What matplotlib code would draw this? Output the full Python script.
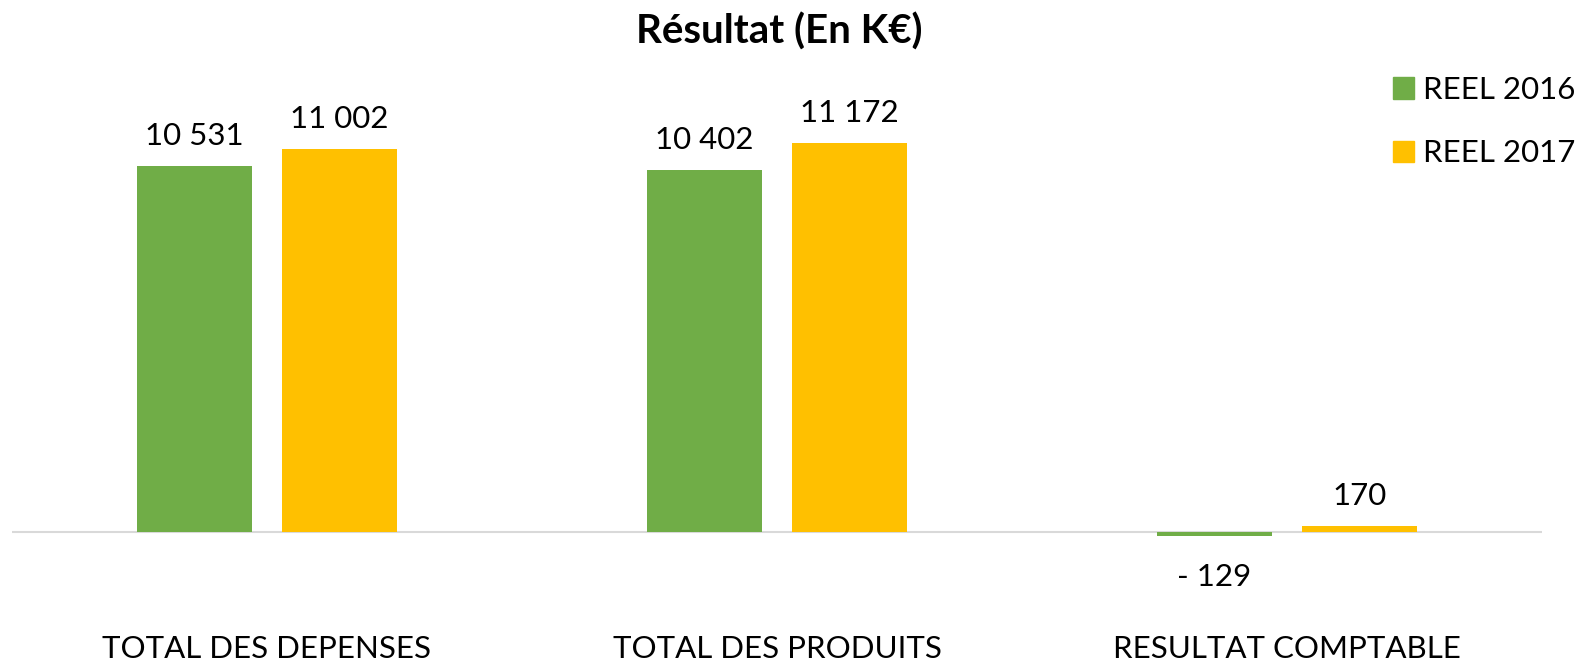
import matplotlib
matplotlib.use("Agg")
import matplotlib.pyplot as plt
from matplotlib.patches import Patch
import numpy as np

categories = ["TOTAL DES DEPENSES", "TOTAL DES PRODUITS", "RESULTAT COMPTABLE"]
series_names = ["REEL 2016", "REEL 2017"]
reel_2016 = [10531, 10402, -129]
reel_2017 = [11002, 11172, 170]
colors = ["#70AD47", "#FFC000"]

plt.rcParams['font.family'] = ['Lato', 'DejaVu Sans']

W, H = 1586, 664
fig = plt.figure(figsize=(W/100, H/100), dpi=100)
# axes in pixel coords: left 12, right 1542, top 60, bottom 560
ax = fig.add_axes([12/W, (H-560)/H, 1530/W, 500/H])
ax.set_xlim(-0.5, 2.5)
px_per_unit = 0.0348
ax.set_ylim(-(560-532)/px_per_unit, (532-60)/px_per_unit)

x = np.arange(len(categories))
bw = 0.224
off = 0.142
FS = 22.5

def fmt(v):
    s = f"{abs(v):,}".replace(",", " ")
    return ("- " + s) if v < 0 else s

for vals, o, c in [(reel_2016, -off, colors[0]), (reel_2017, off, colors[1])]:
    bars = ax.bar(x + o, vals, width=bw, color=c, zorder=3)
    for b, v in zip(bars, vals):
        if v >= 0:
            ax.annotate(fmt(v), (b.get_x()+b.get_width()/2, v), xytext=(0, 15),
                        textcoords="offset points", ha="center", va="baseline", fontsize=FS)
        else:
            ax.annotate(fmt(v), (b.get_x()+b.get_width()/2, v), xytext=(0, -35.5),
                        textcoords="offset points", ha="center", va="baseline", fontsize=FS)

ax.axhline(0, color="#d9d9d9", lw=1.5, zorder=2)
for s in ax.spines.values():
    s.set_visible(False)
ax.set_yticks([])
ax.set_xticks([])

for xi, cat in zip(x, categories):
    ax.text(xi, -(658-532)/px_per_unit, cat, ha="center", va="baseline", fontsize=FS,
            clip_on=False)

fig.text(779/W, 1-44/H, "Résultat (En K€)", ha="center", va="baseline",
         fontsize=29, fontweight="bold")

handles = [Patch(color=c) for c in colors]
fig.legend(handles, series_names, loc="upper left", bbox_to_anchor=(1393/W, 1-76/H),
           frameon=False, fontsize=FS, handlelength=0.67, handleheight=0.67,
           handletextpad=0.3, labelspacing=1.13, borderpad=0, borderaxespad=0)

fig.savefig("out.png", dpi=100)
